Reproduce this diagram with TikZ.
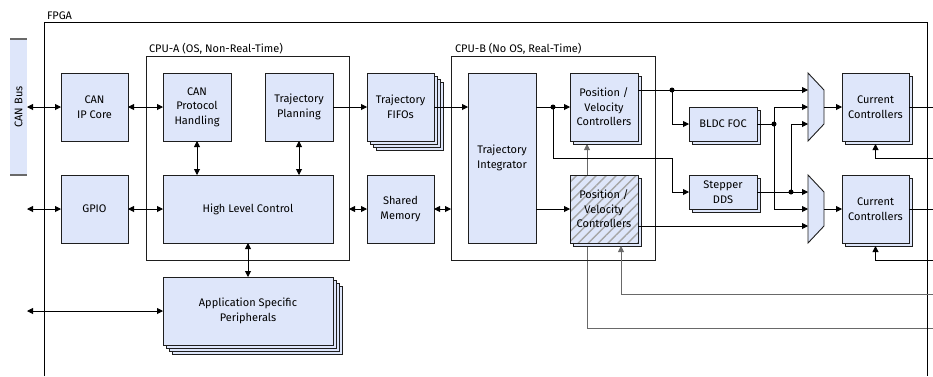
\documentclass[tikz,border=0pt]{standalone}
\usepackage{fontspec}
\setmainfont{Fira Sans}
\usetikzlibrary{arrows.meta,shadows,patterns.meta,calc,backgrounds}
\definecolor{boxfill}{RGB}{222,230,250}
\definecolor{boxline}{RGB}{30,30,30}
\definecolor{fbgray}{RGB}{105,105,105}
\begin{document}
\begin{tikzpicture}[x=1pt,y=-1pt,
  font=\fontsize{11}{14.5}\selectfont,
  every node/.style={inner sep=0pt, outer sep=0pt},
  blk/.style={draw=boxline, fill=boxfill, line width=0.9pt, align=center, minimum width=67pt, minimum height=68pt},
  shad/.style={copy shadow={shadow xshift=3pt, shadow yshift=-3pt, fill=boxfill, draw=boxline, line width=0.9pt}},
  stack/.style={copy shadow={shadow xshift=9pt, shadow yshift=-9pt, fill=boxfill, draw=boxline, line width=0.9pt},
                copy shadow={shadow xshift=6pt, shadow yshift=-6pt, fill=boxfill, draw=boxline, line width=0.9pt},
                copy shadow={shadow xshift=3pt, shadow yshift=-3pt, fill=boxfill, draw=boxline, line width=0.9pt}},
  hatch/.style={preaction={fill=boxfill}, pattern={Lines[angle=45,distance=7pt,line width=1.4pt]}, pattern color=black!35},
  cont/.style={draw=boxline, line width=0.9pt},
  conn/.style={line width=0.9pt, draw=black},
  ar/.style={conn, -{Triangle[length=6pt,width=6pt]}},
  dar/.style={conn, {Triangle[length=6pt,width=6pt]}-{Triangle[length=6pt,width=6pt]}},
  gar/.style={line width=0.9pt, draw=fbgray, -{Triangle[length=6pt,width=6pt]}},
  dot/.style={circle, fill=black, minimum size=5pt},
  lbl/.style={anchor=base west},
]
\useasboundingbox (0,0) rectangle (933,376);
\coordinate (edge) at (933,0);

% FPGA frame
\draw[conn] (44,376) -- (44,22) -- (927,22) -- (927,376);
\node[lbl] (fpgalbl) at (47,19.5) {FPGA};

% CAN bus bar
\node[fill=boxfill, minimum width=17pt, minimum height=136pt] (canbus) at (18.5,107) {};
\draw[fbgray, line width=1.2pt] (canbus.north west) -- (canbus.north east);
\draw[fbgray, line width=1.2pt] (canbus.south west) -- (canbus.south east);
\node[rotate=90] (canbuslbl) at (canbus.center) {CAN Bus};

% containers
\node[cont, minimum width=203pt, minimum height=204pt] (cpua) at (247.5,158) {};
\node[lbl] (cpualbl) at (149,52.5) {CPU-A (OS, Non-Real-Time)};
\node[cont, minimum width=204pt, minimum height=204pt] (cpub) at (553,158) {};
\node[lbl] (cpublbl) at (455,52.5) {CPU-B (No OS, Real-Time)};

% blocks
\node[blk] (canip) at (94.5,107) {CAN\\IP Core};
\node[blk] (gpio) at (94.5,209) {GPIO};
\node[blk, minimum width=68pt] (canproto) at (197,107) {CAN\\Protocol\\Handling};
\node[blk, minimum width=68pt] (trajplan) at (299,107) {Trajectory\\Planning};
\node[blk, minimum width=170pt] (hlc) at (248,209) {High Level Control};
\node[blk, stack, minimum width=170pt] (app) at (248,311) {Application Specific\\Peripherals};
\node[blk, stack] (fifos) at (400.5,107) {Trajectory\\FIFOs};
\node[blk] (shmem) at (400.5,209) {Shared\\Memory};
\node[blk, minimum width=68pt, minimum height=170pt] (trajint) at (502,158) {Trajectory\\Integrator};

% feedback line passing behind hatched block
\coordinate (fb4) at (933,328);
\begin{scope}[on background layer]
\node[minimum width=68pt, minimum height=68pt] (pv1ghost) at (604,107) {};
\draw[gar] (fb4) -| ([xshift=-17pt,yshift=-3pt]pv1ghost.south);
\end{scope}

\node[blk, shad, minimum width=68pt] (pv1) at (604,107) {Position /\\Velocity\\Controllers};
\node[blk, shad, hatch, minimum width=68pt] (pv2) at (604,209) {Position /\\Velocity\\Controllers};
\node[blk, shad, minimum width=68pt, minimum height=34pt] (bldc) at (723,124) {BLDC FOC};
\node[blk, shad, minimum width=68pt, minimum height=34pt] (stepper) at (723,192) {Stepper\\DDS};
\node[blk, shad] (cc1) at (875.5,107) {Current\\Controllers};
\node[blk, shad] (cc2) at (875.5,209) {Current\\Controllers};

% multiplexers
\node[minimum width=16pt, minimum height=68pt] (mux1) at (816,107) {};
\node[minimum width=16pt, minimum height=68pt] (mux2) at (816,209) {};
\foreach \m in {mux1,mux2}{
  \draw[fill=boxfill, draw=boxline, line width=0.9pt] (\m.north west) -- ([yshift=-17pt]\m.north east) -- ([yshift=17pt]\m.south east) -- (\m.south west) -- cycle;
}
\coordinate (m1a) at ($(mux1.west)+(0,-17)$);
\coordinate (m1b) at (mux1.west);
\coordinate (m1c) at ($(mux1.west)+(0,17)$);
\coordinate (m2a) at ($(mux2.west)+(0,-17)$);
\coordinate (m2b) at (mux2.west);
\coordinate (m2c) at ($(mux2.west)+(0,17)$);

% junction points
\coordinate (d1) at ($(pv1.west)+(-17,0)$);
\coordinate (d2) at ($(bldc.west|-m1a)+(-17,0)$);
\coordinate (d3) at ($(bldc.east)+(17,0)$);
\coordinate (d4) at ($(stepper.east)+(34,0)$);

% left side connectors
\draw[dar] (canbus.east) -- (canip.west);
\draw[dar] (canbus.east |- gpio.west) -- (gpio.west);
\draw[dar] (canbus.east |- app.west) -- (app.west);
\draw[dar] (canip.east) -- (canproto.west);
\draw[dar] (gpio.east) -- (hlc.west);
\draw[dar] (canproto.south) -- (canproto.south |- hlc.north);
\draw[dar] (trajplan.south) -- (trajplan.south |- hlc.north);
\draw[dar] (hlc.south) -- (app.north);
\draw[ar] (trajplan.east) -- (fifos.west);
\draw[ar] (fifos.east) -- (fifos.east -| trajint.west);
\draw[dar] (shmem.west -| cpua.east) -- (shmem.west);
\draw[dar] (shmem.east) -- (shmem.east -| cpub.west);

% CPU-B connectors
\draw[ar] (trajint.east |- pv1.west) -- (pv1.west);
\draw[ar] (trajint.east |- pv2.west) -- (pv2.west);
\draw[ar] (d1) |- (d2 |- trajint.center) |- (stepper.west);
\draw[ar] (pv1.east |- m1a) -- (m1a);
\draw[ar] (d2) |- (bldc.west);
\draw[conn] (bldc.east) -- (d3);
\draw[ar] (d3) |- (m1b);
\draw[ar] (d3) |- (m2b);
\draw[ar] (stepper.east) -- (m2a);
\draw[ar] (d4) |- (m1c);
\draw[ar] (pv2.east |- m2c) -- (m2c);
\draw[ar] (mux1.east) -- (cc1.west);
\draw[ar] (mux2.east) -- (cc2.west);
\draw[conn] (cc1.east) -- (cc1.east -| edge);
\draw[conn] (cc2.east) -- (cc2.east -| edge);

% feedback lines
\coordinate (fb1) at (933,158);
\coordinate (fb2) at (933,260);
\coordinate (fb3) at (933,294);
\draw[ar] (fb1) -| ([yshift=-3pt]cc1.south);
\draw[ar] (fb2) -| ([yshift=-3pt]cc2.south);
\draw[gar] (fb3) -| ([xshift=17pt,yshift=-3pt]pv2.south);

% dots
\foreach \d in {d1,d2,d3,d4} \node[dot] at (\d) {};
\end{tikzpicture}
\end{document}
